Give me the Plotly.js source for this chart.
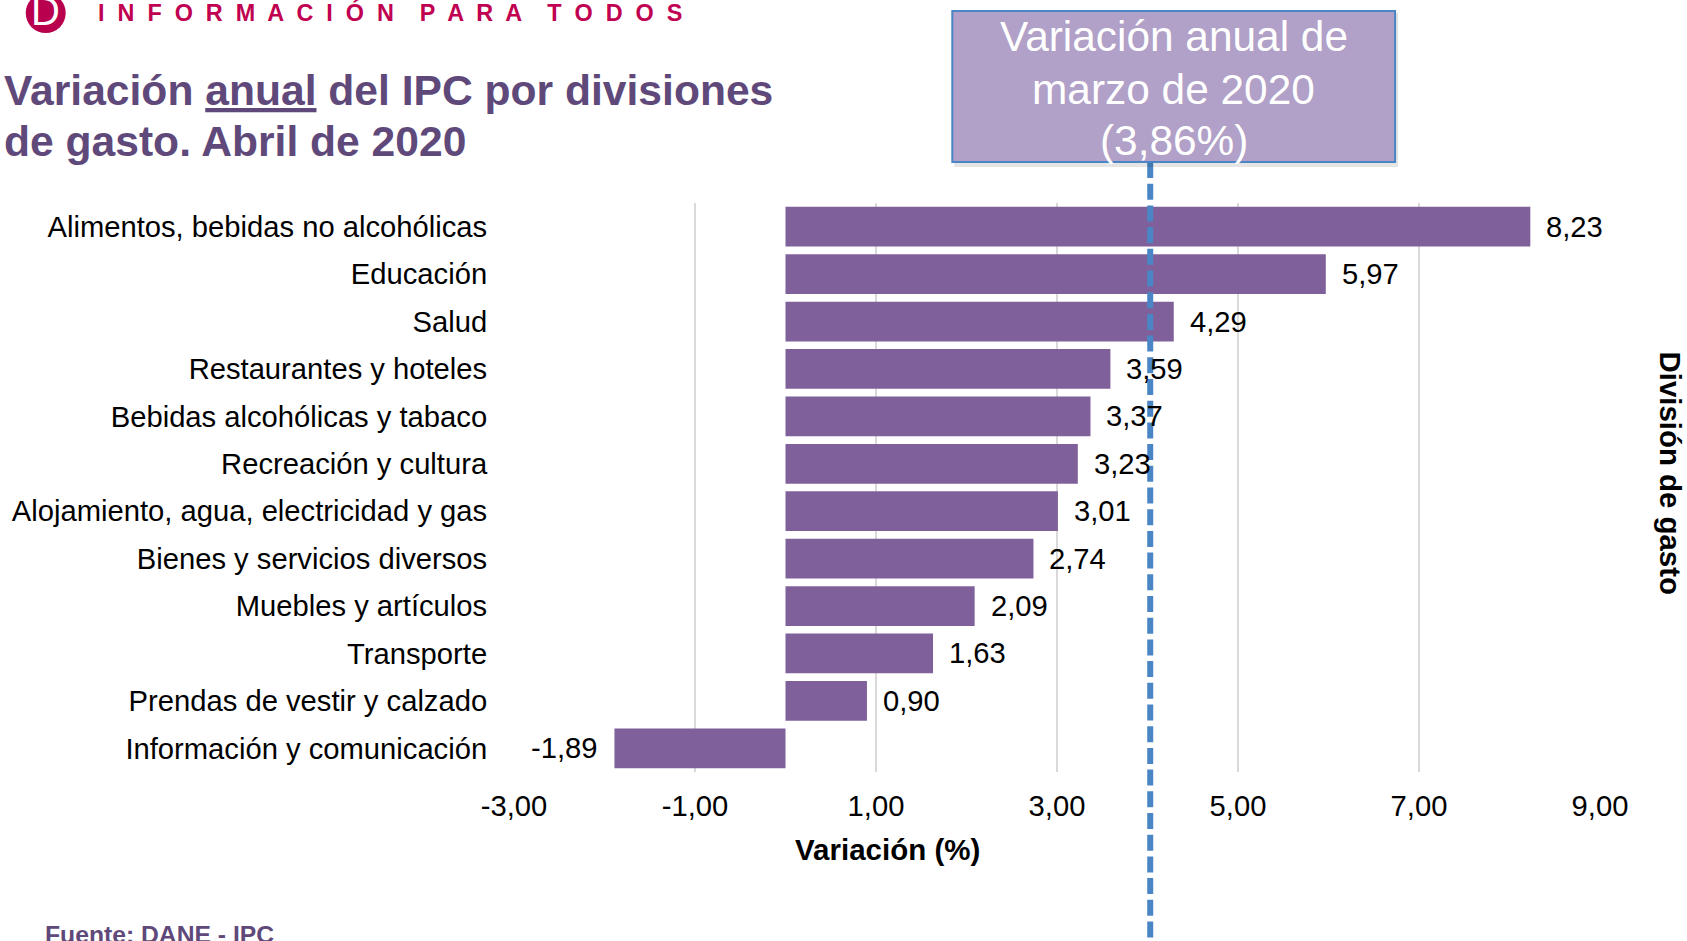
<!DOCTYPE html>
<html><head><meta charset="utf-8">
<script src="https://cdn.plot.ly/plotly-3.0.1.min.js"></script>
<style>html,body{margin:0;padding:0;background:#fff;overflow:hidden}</style>
</head><body><div id="chart" style="width:1687px;height:941px"></div>
<script>
const categories = ["Alimentos, bebidas no alcohólicas","Educación","Salud","Restaurantes y hoteles","Bebidas alcohólicas y tabaco","Recreación y cultura","Alojamiento, agua, electricidad y gas","Bienes y servicios diversos","Muebles y artículos","Transporte","Prendas de vestir y calzado","Información y comunicación"];
const values = [8.23,5.97,4.29,3.59,3.37,3.23,3.01,2.74,2.09,1.63,0.90,-1.89];
const xTicks = [-3,-1,1,3,5,7,9];
const xTickText = ["-3,00","-1,00","1,00","3,00","5,00","7,00","9,00"];
const linePos = 4.03;
const W=1687,H=941,L=513.5,R=87,T=203,B=169;
const PW=W-L-R,PH=H-T-B;
const px=x=>(x-L)/PW, py=y=>(H-B-y)/PH;
const FONT='"Liberation Sans", Arial, sans-serif';
const PURPLE='#5F497A';
const SZ=29.2;
function note(x,y,text,size,color,xa,extra){
  return Object.assign({xref:'paper',yref:'paper',x:px(x),y:py(y),text,showarrow:false,xanchor:xa||'left',yanchor:'middle',
    font:{family:FONT,size,color}},extra||{});
}
const dataLabels = values.map((v,i)=>({xref:'x',yref:'y',x:v,y:categories[i],text:v.toFixed(2).replace('.',','),showarrow:false,
  xanchor:v<0?'right':'left',xshift:v<0?-14:14,yshift:0,font:{family:FONT,size:SZ,color:'#000'}}));
const annotations = dataLabels.concat([
  note(95,13,'<b>I  N  F  O  R  M  A  C  I  Ó  N    P  A  R  A    T  O  D  O  S</b>',23.4,'#C00050'),
  note(45,11,'D',40,'#fff','center'),
  note(1,90,'<b>Variación <span style="text-decoration:underline">anual</span> del IPC por divisiones</b>',42.6,PURPLE),
  note(1,141,'<b>de gasto. Abril de 2020</b>',42.6,PURPLE),
  note(1173.5,36,'Variación anual de',42.4,'#fff','center'),
  note(1173.5,89.5,'marzo de 2020',42.4,'#fff','center'),
  note(1173.5,140,'(3,86%)',42.4,'#fff','center'),
  note(887,849,'<b>Variación (%)</b>',29.5,'#000','center'),
  note(1671.5,473,'<b>División de gasto</b>',29.4,'#000','center',{textangle:90}),
  note(42,934,'<b>Fuente: DANE - IPC</b>',24.7,PURPLE)
]);
const shapes = [
  {type:'line',xref:'x',yref:'paper',x0:linePos,x1:linePos,y0:py(162),y1:py(945),line:{color:'#4A86C5',width:6,dash:'16px,5.7px'}},
  {type:'rect',xref:'paper',yref:'paper',x0:px(954),x1:px(1398),y0:py(167),y1:py(13),fillcolor:'rgba(0,0,0,0.10)',line:{width:0}},
  {type:'rect',xref:'paper',yref:'paper',x0:px(952),x1:px(1395),y0:py(162),y1:py(11),fillcolor:'#B1A0C7',line:{color:'#4A86C5',width:2}},
  {type:'circle',xref:'paper',yref:'paper',x0:px(25),x1:px(65),y0:py(33),y1:py(-7),fillcolor:'#B8004F',line:{width:0}}
];
Plotly.newPlot('chart',[{type:'bar',orientation:'h',y:categories,x:values,width:0.84,marker:{color:'#7F609A',line:{width:0}},hoverinfo:'x+y'}],{
  width:W,height:H,autosize:false,margin:{l:L,r:R,t:T,b:B,pad:0},paper_bgcolor:'#fff',plot_bgcolor:'#fff',showlegend:false,
  font:{family:FONT,size:SZ,color:'#000'},
  xaxis:{range:[-3,9],tickvals:xTicks,ticktext:xTickText,showgrid:true,gridcolor:'#D9D9D9',gridwidth:1.5,zeroline:false,showline:false,
    ticks:'outside',ticklen:8,tickcolor:'rgba(0,0,0,0)',tickfont:{family:FONT,size:SZ,color:'#000'}},
  yaxis:{type:'category',categoryorder:'array',categoryarray:categories,autorange:false,range:[11.5,-0.5],showgrid:false,zeroline:false,showline:false,
    ticks:'outside',ticklen:20,tickcolor:'rgba(0,0,0,0)',tickfont:{family:FONT,size:SZ,color:'#000'}},
  shapes,annotations
},{displayModeBar:false,staticPlot:true});
</script></body></html>
